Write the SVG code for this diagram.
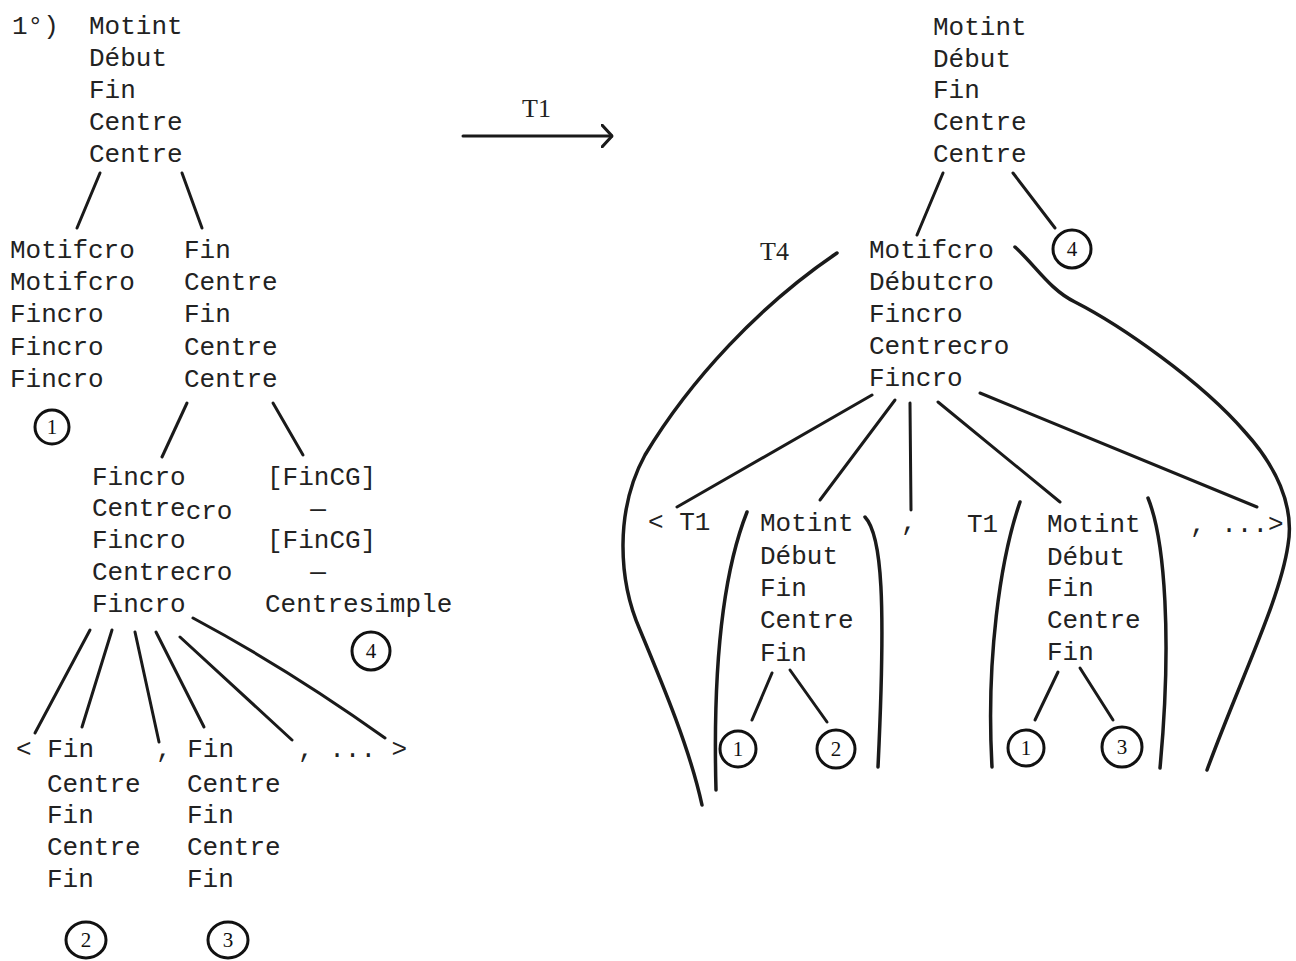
<svg xmlns="http://www.w3.org/2000/svg" width="1296" height="961" viewBox="0 0 1296 961">
  <style>
    .t { font-family: "Liberation Mono", "DejaVu Sans Mono", monospace; font-size: 26px; fill: #222; }
    .lab { font-family: "Liberation Serif", "DejaVu Serif", serif; font-size: 26px; fill: #222; }
    .num { font-family: "Liberation Serif", "DejaVu Serif", serif; font-size: 21px; fill: #111; text-anchor: middle; }
    .ln { stroke: #1a1a1a; stroke-width: 3; fill: none; stroke-linecap: round; }
    .br { stroke: #1a1a1a; stroke-width: 3.5; fill: none; stroke-linecap: round; }
    .ring { stroke: #111; stroke-width: 3; fill: none; }
  </style>
  <defs>
    <marker id="head" viewBox="0 0 12 24" refX="11" refY="12" markerWidth="12" markerHeight="24" markerUnits="userSpaceOnUse" orient="auto">
      <path d="M1,1 L11,12 L1,23" fill="none" stroke="#1a1a1a" stroke-width="3" stroke-linecap="round"/>
    </marker>
  </defs>
  <rect width="1296" height="961" fill="#ffffff"/>

  <!-- left tree -->
  <g id="left-root">
    <text class="t" x="12" y="34">1°)</text>
    <text class="t" x="89" y="34">Motint</text>
    <text class="t" x="89" y="66">Début</text>
    <text class="t" x="89" y="98">Fin</text>
    <text class="t" x="89" y="130">Centre</text>
    <text class="t" x="89" y="162">Centre</text>
  </g>
  <g id="left-motifcro">
    <text class="t" x="10" y="258">Motifcro</text>
    <text class="t" x="10" y="290">Motifcro</text>
    <text class="t" x="10" y="322">Fincro</text>
    <text class="t" x="10" y="355">Fincro</text>
    <text class="t" x="10" y="387">Fincro</text>
  </g>
  <g id="left-fin">
    <text class="t" x="184" y="258">Fin</text>
    <text class="t" x="184" y="290">Centre</text>
    <text class="t" x="184" y="322">Fin</text>
    <text class="t" x="184" y="355">Centre</text>
    <text class="t" x="184" y="387">Centre</text>
  </g>
  <g id="left-fincro">
    <text class="t" x="92" y="485">Fincro</text>
    <text class="t" x="92" y="516">Centre<tspan dy="3">cro</tspan></text>
    <text class="t" x="92" y="548">Fincro</text>
    <text class="t" x="92" y="580">Centrecro</text>
    <text class="t" x="92" y="612">Fincro</text>
  </g>
  <g id="left-fincg">
    <text class="t" x="267" y="485">[FinCG]</text>
    <text class="t" x="318" y="517" text-anchor="middle">—</text>
    <text class="t" x="267" y="548">[FinCG]</text>
    <text class="t" x="318" y="580" text-anchor="middle">—</text>
    <text class="t" x="265" y="612">Centresimple</text>
  </g>
  <g id="left-list">
    <text class="t" x="16" y="757">&lt; Fin</text>
    <text class="t" x="47" y="792">Centre</text>
    <text class="t" x="47" y="823">Fin</text>
    <text class="t" x="47" y="855">Centre</text>
    <text class="t" x="47" y="887">Fin</text>
    <text class="t" x="156" y="757">, Fin</text>
    <text class="t" x="187" y="792">Centre</text>
    <text class="t" x="187" y="823">Fin</text>
    <text class="t" x="187" y="855">Centre</text>
    <text class="t" x="187" y="887">Fin</text>
    <text class="t" x="298" y="757">, ... &gt;</text>
  </g>
  <g id="left-mark-1">
    <circle class="ring" cx="52" cy="427" r="17"/>
    <text class="num" x="52" y="434">1</text>
  </g>
  <g id="left-mark-4">
    <circle class="ring" cx="371" cy="651" r="19"/>
    <text class="num" x="371" y="658">4</text>
  </g>
  <g id="left-mark-2">
    <ellipse class="ring" cx="86" cy="940" rx="20" ry="18"/>
    <text class="num" x="86" y="947">2</text>
  </g>
  <g id="left-mark-3">
    <ellipse class="ring" cx="228" cy="940" rx="20" ry="18"/>
    <text class="num" x="228" y="947">3</text>
  </g>

  <!-- transformation arrow -->
  <g id="arrow-t1">
    <text class="lab" x="522" y="117">T1</text>
    <line class="ln" x1="463" y1="136" x2="612" y2="136" marker-end="url(#head)"/>
  </g>

  <!-- right tree -->
  <g id="right-root">
    <text class="t" x="933" y="35">Motint</text>
    <text class="t" x="933" y="67">Début</text>
    <text class="t" x="933" y="98">Fin</text>
    <text class="t" x="933" y="130">Centre</text>
    <text class="t" x="933" y="162">Centre</text>
  </g>
  <g id="right-mark-4">
    <circle class="ring" cx="1072" cy="249" r="19"/>
    <text class="num" x="1072" y="256">4</text>
  </g>
  <g id="right-t4">
    <text class="lab" x="760" y="260">T4</text>
  </g>
  <g id="right-motifcro">
    <text class="t" x="869" y="258">Motifcro</text>
    <text class="t" x="869" y="290">Débutcro</text>
    <text class="t" x="869" y="322">Fincro</text>
    <text class="t" x="869" y="354">Centrecro</text>
    <text class="t" x="869" y="386">Fincro</text>
  </g>
  <g id="right-list">
    <text class="t" x="648" y="530">&lt; T1</text>
    <text class="t" x="901" y="530">,</text>
    <text class="t" x="967" y="532">T1</text>
    <text class="t" x="1190" y="532">, ...&gt;</text>
  </g>
  <g id="right-motint-a">
    <text class="t" x="760" y="531">Motint</text>
    <text class="t" x="760" y="564">Début</text>
    <text class="t" x="760" y="596">Fin</text>
    <text class="t" x="760" y="628">Centre</text>
    <text class="t" x="760" y="661">Fin</text>
    <circle class="ring" cx="738" cy="749" r="18"/>
    <text class="num" x="738" y="756">1</text>
    <circle class="ring" cx="836" cy="749" r="19"/>
    <text class="num" x="836" y="756">2</text>
  </g>
  <g id="right-motint-b">
    <text class="t" x="1047" y="532">Motint</text>
    <text class="t" x="1047" y="565">Début</text>
    <text class="t" x="1047" y="596">Fin</text>
    <text class="t" x="1047" y="628">Centre</text>
    <text class="t" x="1047" y="660">Fin</text>
    <circle class="ring" cx="1026" cy="748" r="18"/>
    <text class="num" x="1026" y="755">1</text>
    <circle class="ring" cx="1122" cy="747" r="20"/>
    <text class="num" x="1122" y="754">3</text>
  </g>

  <!-- connectors -->
  <g id="connectors">
    <line class="ln" x1="100" y1="173" x2="77" y2="228"/>
    <line class="ln" x1="182" y1="173" x2="202" y2="228"/>
    <line class="ln" x1="187" y1="403" x2="162" y2="457"/>
    <line class="ln" x1="273" y1="403" x2="303" y2="455"/>
    <line class="ln" x1="90" y1="630" x2="35" y2="733"/>
    <line class="ln" x1="112" y1="630" x2="82" y2="727"/>
    <line class="ln" x1="135" y1="632" x2="159" y2="742"/>
    <line class="ln" x1="156" y1="632" x2="204" y2="727"/>
    <line class="ln" x1="180" y1="637" x2="292" y2="740"/>
    <path class="ln" d="M193,618 Q290,670 385,738"/>

    <line class="ln" x1="943" y1="173" x2="917" y2="235"/>
    <line class="ln" x1="1013" y1="173" x2="1055" y2="228"/>
    <line class="ln" x1="872" y1="395" x2="677" y2="507"/>
    <line class="ln" x1="895" y1="400" x2="820" y2="500"/>
    <line class="ln" x1="910" y1="403" x2="911" y2="510"/>
    <line class="ln" x1="938" y1="402" x2="1060" y2="502"/>
    <line class="ln" x1="980" y1="393" x2="1257" y2="507"/>
    <line class="ln" x1="772" y1="673" x2="752" y2="720"/>
    <line class="ln" x1="790" y1="670" x2="827" y2="722"/>
    <line class="ln" x1="1058" y1="672" x2="1035" y2="720"/>
    <line class="ln" x1="1080" y1="668" x2="1113" y2="720"/>

    <path class="br" d="M837,253 C760,305 690,380 645,455 C615,510 618,580 640,630 C665,690 690,750 702,805"/>
    <path class="br" d="M1015,247 C1035,265 1050,290 1075,302 C1120,325 1200,380 1245,432 C1275,465 1295,505 1288,545 C1280,600 1240,680 1207,770"/>
    <path class="br" d="M747,512 C728,560 712,640 716,790"/>
    <path class="br" d="M865,517 C882,535 886,600 878,767"/>
    <path class="br" d="M1020,502 C1000,560 986,660 992,767"/>
    <path class="br" d="M1148,498 C1165,540 1172,640 1160,768"/>
  </g>
</svg>
